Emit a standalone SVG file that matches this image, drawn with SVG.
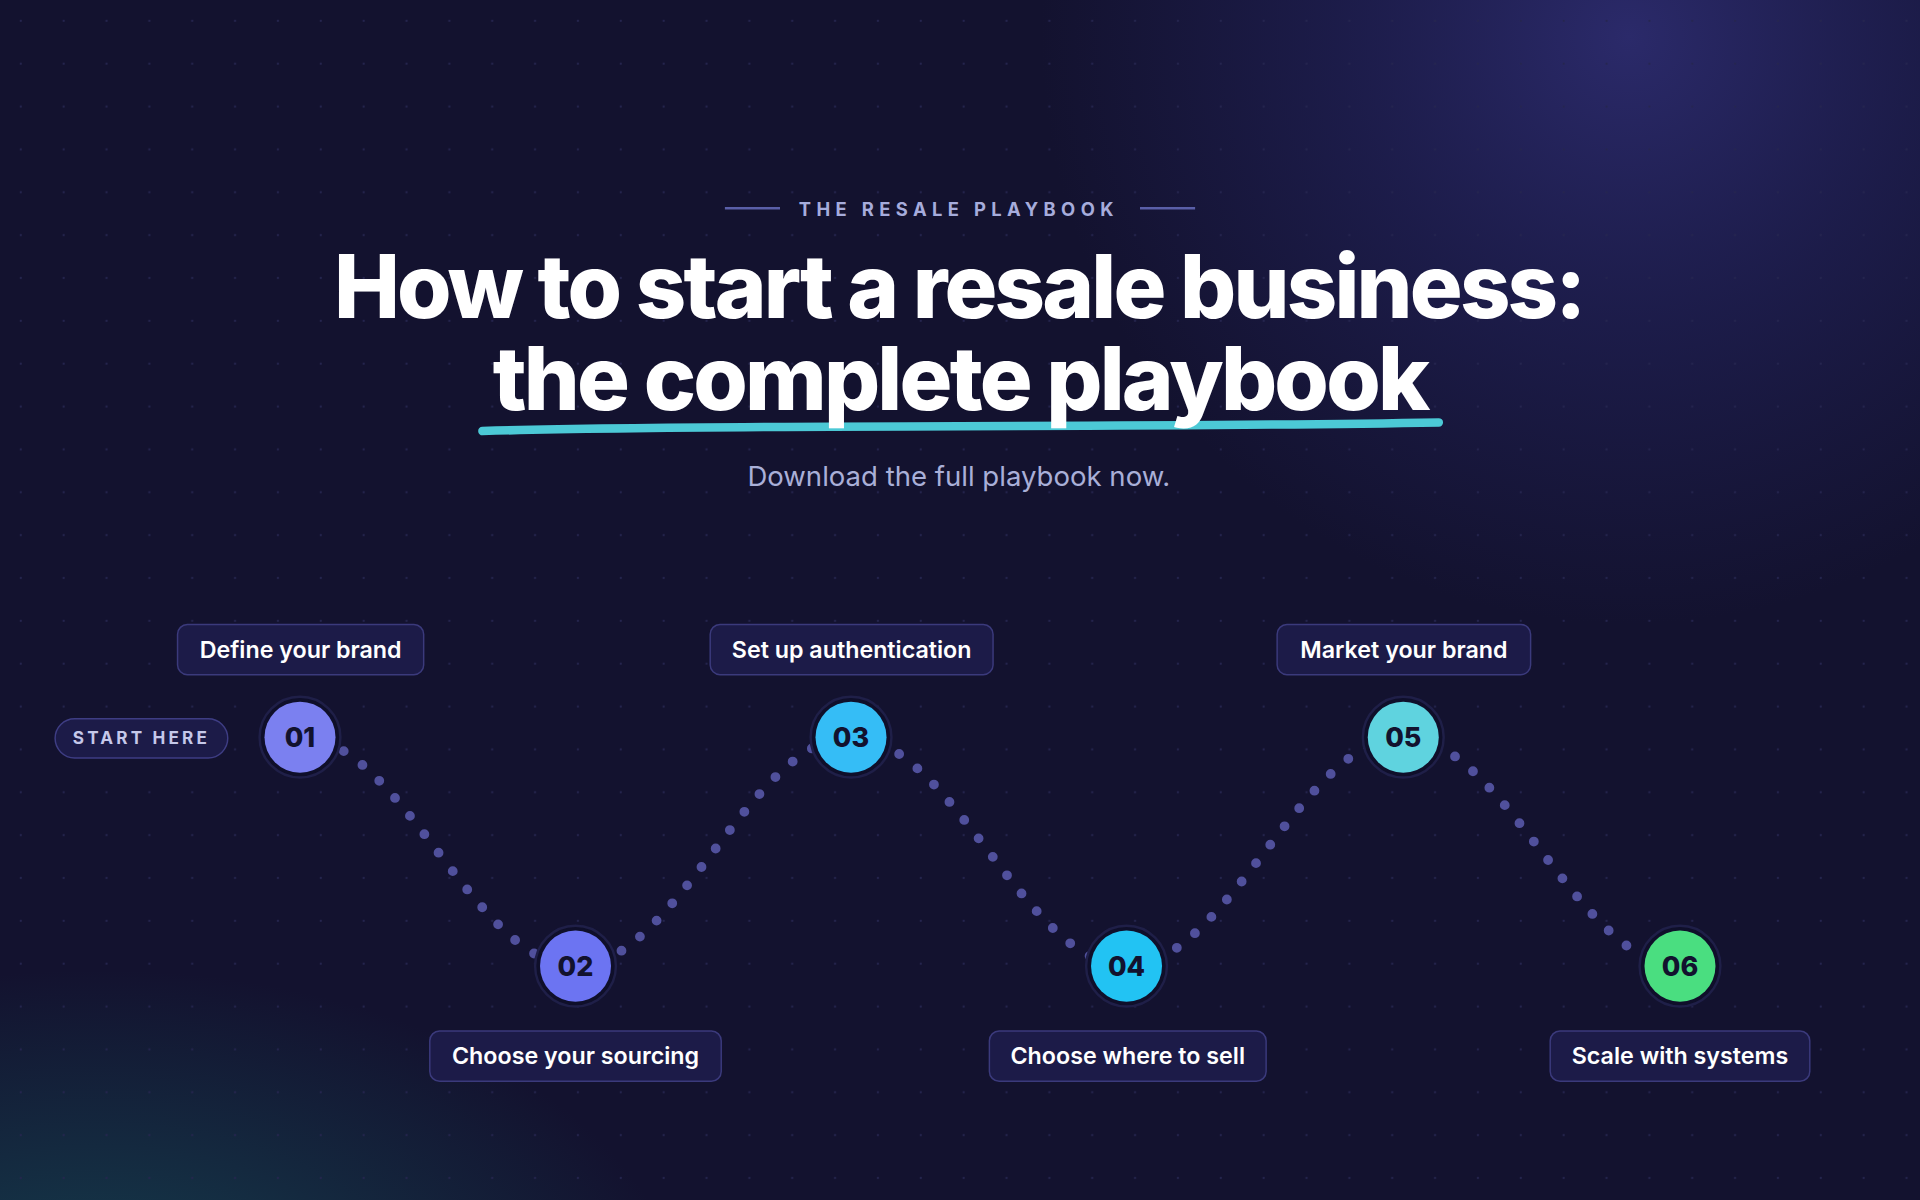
<svg xmlns="http://www.w3.org/2000/svg" width="1920" height="1200" viewBox="0 0 1920 1200">
<defs>
<radialGradient id="gTR" cx="1330" cy="30" r="480" gradientUnits="userSpaceOnUse"><stop offset="0" stop-color="#2b2a6a"/><stop offset="0.5" stop-color="#22225a" stop-opacity="0.6"/><stop offset="1" stop-color="#22225a" stop-opacity="0"/></radialGradient>
<radialGradient id="gBL" cx="80" cy="1080" r="480" gradientTransform="translate(0 1080) scale(1 0.6) translate(0 -1080)" gradientUnits="userSpaceOnUse"><stop offset="0" stop-color="#15404f"/><stop offset="1" stop-color="#15404f" stop-opacity="0"/></radialGradient>
<pattern id="dots" width="35" height="35" patternUnits="userSpaceOnUse"><circle cx="17" cy="17" r="0.9" fill="#25254f"/></pattern>
<style>
.lbl rect{fill:#1c1b48;stroke:#3b3a7c;stroke-width:1.2}
.lbl text{font-family:Inter,"Liberation Sans",sans-serif;font-weight:600;font-size:19px;fill:#ffffff;text-anchor:middle}
.nd .ring{fill:#0f0f2a;stroke:#1f1f48;stroke-width:2}
.nd text{font-family:Inter,"Liberation Sans",sans-serif;font-weight:800;font-size:22px;fill:#12122e;text-anchor:middle}
</style>
</defs>
<rect width="1920" height="1200" fill="#13122f"/>
<g transform="scale(1.22449)">
<rect width="1568" height="980" fill="url(#gTR)"/>
<rect width="1568" height="980" fill="url(#gBL)"/>
<rect width="1568" height="980" fill="url(#dots)"/>
<g id="header">
<line x1="592" y1="170" x2="637" y2="170" stroke="#5a5fa8" stroke-width="2"/>
<line x1="931" y1="170" x2="976" y2="170" stroke="#5a5fa8" stroke-width="2"/>
<text x="783" y="176" font-family="Inter,'Liberation Sans',sans-serif" font-size="15" font-weight="700" letter-spacing="4.4" fill="#a6acdc" text-anchor="middle">THE RESALE PLAYBOOK</text>
<text x="783" y="260" font-family="Inter,'Liberation Sans',sans-serif" font-size="72" font-weight="800" letter-spacing="-2.3" fill="#ffffff" text-anchor="middle">How to start a resale business:</text>
<path d="M394,352 C600,346 900,350 1175,345" fill="none" stroke="#4cc9d6" stroke-width="7" stroke-linecap="round"/>
<text x="784" y="335" font-family="Inter,'Liberation Sans',sans-serif" font-size="72" font-weight="800" letter-spacing="-2.3" fill="#ffffff" text-anchor="middle">the complete playbook</text>
<text x="783" y="397" font-family="Inter,'Liberation Sans',sans-serif" font-size="22.5" font-weight="400" fill="#a9afd8" text-anchor="middle">Download the full playbook now.</text>
</g>
<g id="connectors">
<path d="M245,602 C327,602 388,789 470,789 C552,789 613,602 695,602 C777,602 838,789 920,789 C1002,789 1064,602 1146,602 C1228,602 1290,789 1372,789" fill="none" stroke="#50509c" stroke-width="8" stroke-linecap="round" stroke-dasharray="0 19"/>
</g>
<g id="start-here">
<rect x="45" y="587" width="141" height="32" rx="16" fill="#1c1b48" stroke="#3e3d84" stroke-width="1.2"/>
<text x="115.5" y="608" font-family="Inter,'Liberation Sans',sans-serif" font-size="14" font-weight="700" letter-spacing="2.6" fill="#c5c8ea" text-anchor="middle">START HERE</text>
</g>
<g id="n1" class="nd"><circle class="ring" cx="245" cy="602" r="33"/><circle cx="245" cy="602" r="29" fill="#7b80f0"/><text x="245" y="610">01</text></g>
<g id="n2" class="nd"><circle class="ring" cx="470" cy="789" r="33"/><circle cx="470" cy="789" r="29" fill="#6c74f2"/><text x="470" y="797">02</text></g>
<g id="n3" class="nd"><circle class="ring" cx="695" cy="602" r="33"/><circle cx="695" cy="602" r="29" fill="#35bdf6"/><text x="695" y="610">03</text></g>
<g id="n4" class="nd"><circle class="ring" cx="920" cy="789" r="33"/><circle cx="920" cy="789" r="29" fill="#22c3f3"/><text x="920" y="797">04</text></g>
<g id="n5" class="nd"><circle class="ring" cx="1146" cy="602" r="33"/><circle cx="1146" cy="602" r="29" fill="#5fd3df"/><text x="1146" y="610">05</text></g>
<g id="n6" class="nd"><circle class="ring" cx="1372" cy="789" r="33"/><circle cx="1372" cy="789" r="29" fill="#4ade80"/><text x="1372" y="797">06</text></g>
<g id="l1" class="lbl"><rect x="145" y="510" width="201" height="41" rx="8"/><text x="245.5" y="537">Define your brand</text></g>
<g id="l3" class="lbl"><rect x="580" y="510" width="231" height="41" rx="8"/><text x="695.5" y="537">Set up authentication</text></g>
<g id="l5" class="lbl"><rect x="1043" y="510" width="207" height="41" rx="8"/><text x="1146.5" y="537">Market your brand</text></g>
<g id="l2" class="lbl"><rect x="351" y="842" width="238" height="41" rx="8"/><text x="470" y="869">Choose your sourcing</text></g>
<g id="l4" class="lbl"><rect x="808" y="842" width="226" height="41" rx="8"/><text x="921" y="869">Choose where to sell</text></g>
<g id="l6" class="lbl"><rect x="1266" y="842" width="212" height="41" rx="8"/><text x="1372" y="869">Scale with systems</text></g>
</g>
</svg>
